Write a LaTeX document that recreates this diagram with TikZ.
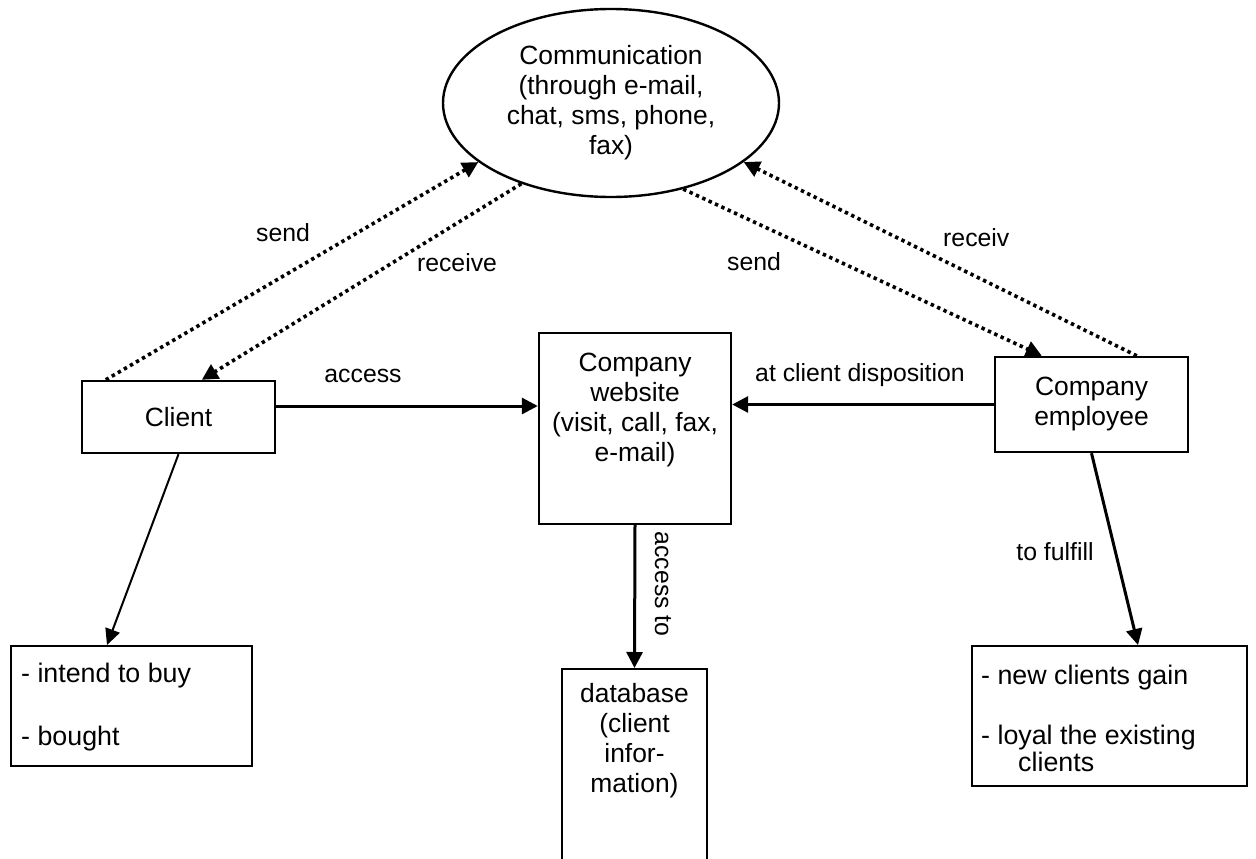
\documentclass[tikz,border=0pt]{standalone}
\usepackage{fontspec}
\setmainfont{Liberation Sans}
\usetikzlibrary{arrows.meta,shapes.geometric,calc}
\begin{document}
\begin{tikzpicture}[x=1pt,y=-1pt,
  box/.style={draw,line width=2.4pt,fill=white,inner sep=0pt},
  txt/.style={font=\fontsize{26.4}{30}\selectfont,align=center,inner sep=0pt},
  ltxt/.style={font=\fontsize{26.8}{30}\selectfont,inner sep=0pt,anchor=base west},
  lbl/.style={font=\fontsize{24.8}{28}\selectfont,inner sep=0pt},
  dotarrow/.style={line width=3.6pt,dash pattern=on 3.4pt off 3.6pt,-{Triangle[length=16pt,width=16pt]}},
  solidarrow/.style={line width=3pt,-{Triangle[length=16pt,width=16pt]}},
  thinarrow/.style={line width=2pt,-{Triangle[length=16pt,width=15pt]}}]
\useasboundingbox (0,0) rectangle (1256,859);

% nodes
\node[box,ellipse,minimum width=336pt,minimum height=188pt,txt] (comm) at (611,103)
  {Communication\\(through e-mail,\\chat, sms, phone,\\fax)};
\node[box,minimum width=193pt,minimum height=72pt,txt] (client) at (178.5,417) {Client};
\node[box,minimum width=192pt,minimum height=191pt] (web) at (635,428.5) {};
\node[txt,anchor=north] (webtxt) at (635,353) {Company\\website\\(visit, call, fax,\\e-mail)};
\node[box,minimum width=193pt,minimum height=95pt,txt] (emp) at (1091.5,404.5) {Company\\employee};
\node[box,minimum width=145pt,minimum height=240pt,anchor=north] (db) at (634.5,668) {};
\node[txt,anchor=north] (dbtxt) at (634.5,683) {database\\(client\\infor-\\mation)};
\node[box,minimum width=241pt,minimum height=120pt,anchor=north west] (buy) at (10,645) {};
\node[ltxt] (buy1) at (21,682) {- intend to buy};
\node[ltxt] (buy2) at (21,745) {- bought};
\node[box,minimum width=275pt,minimum height=140pt,anchor=north west] (gain) at (971,645) {};
\node[ltxt] (gain1) at (981,684) {- new clients gain};
\node[ltxt] (gain2) at (981,744) {- loyal the existing};
\node[ltxt] (gain3) at (1018,771) {clients};

% connectors
\draw[dotarrow] ($(client.north west)+(25,0)$) -- (comm.204);
\draw[dotarrow] (comm.222) -- ($(client.north west)+(121,0)$);
\draw[dotarrow] (comm.310) -- ($(emp.north west)+(48,0)$);
\draw[dotarrow] ($(emp.north west)+(143,0)$) -- (comm.336);
\draw[solidarrow] ([yshift=11pt]client.east) -- ([yshift=11pt]client.east -| web.west);
\draw[solidarrow] (emp.west) -- (emp.west -| web.east);
\draw[solidarrow] (web.south) -- (db.north);
\draw[thinarrow] (client.south) -- ($(buy.north west)+(97,0)$);
\draw[solidarrow] (emp.south) -- ($(gain.north west)+(167,0)$);

% labels
\node[lbl] (lsend1) at (283,233) {send};
\node[lbl] (lrec1) at (457,263) {receive};
\node[lbl] (lsend2) at (754,262) {send};
\node[lbl,anchor=west] (lrec2) at (943,238) {receiv};
\node[lbl] (lacc) at (363,376) {access};
\node[lbl] (ldisp) at (860,375) {at client disposition};
\node[lbl] (lful) at (1055,552) {to fulfill};
\node[lbl,rotate=-90] (lacc2) at (663,584) {access to};
\end{tikzpicture}
\end{document}
